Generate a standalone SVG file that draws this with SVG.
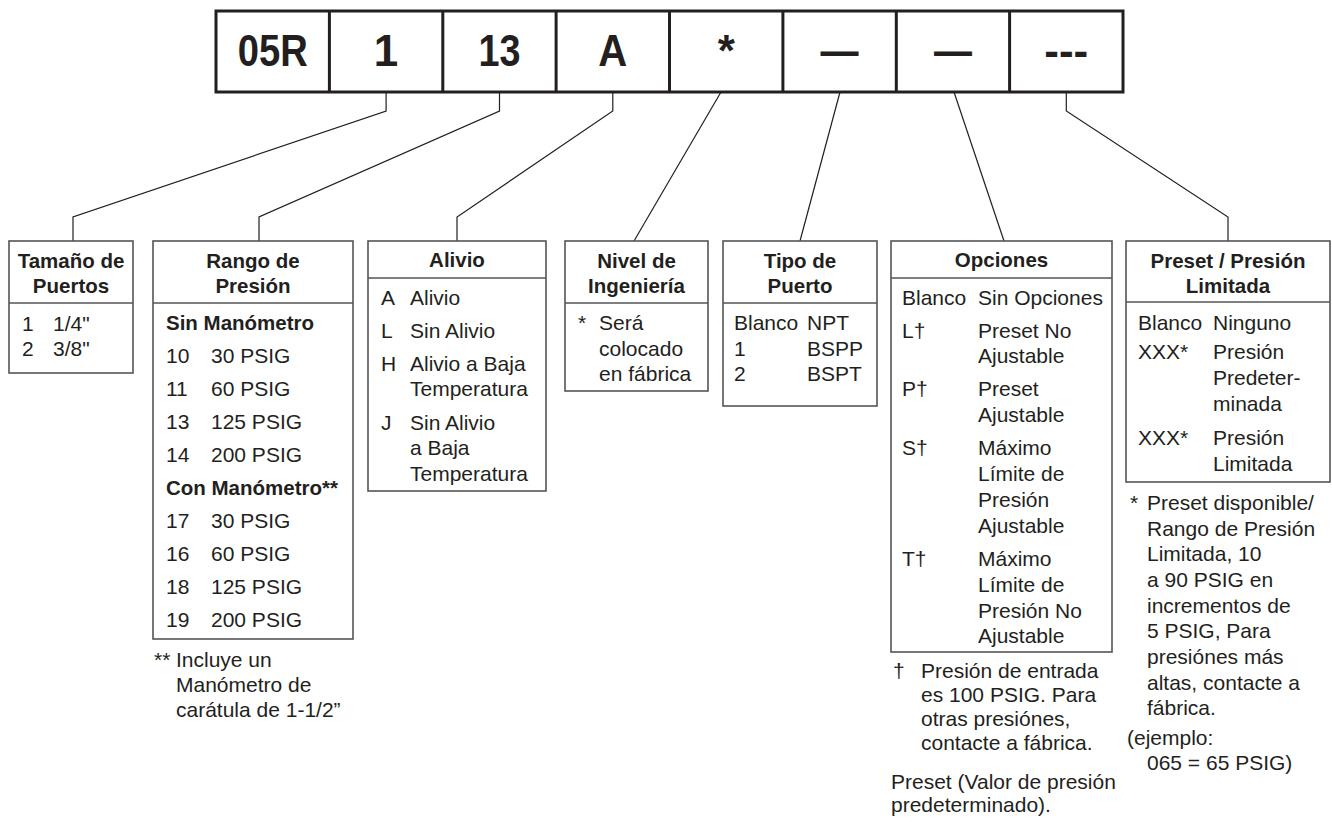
<svg xmlns="http://www.w3.org/2000/svg" width="1332" height="832" viewBox="0 0 1332 832">
<style>
.t{font-family:"Liberation Sans",Arial,Helvetica,sans-serif;fill:#231f20;font-size:21px}
.b{font-weight:bold;font-size:20.5px}
.c{text-anchor:middle}
.box{fill:#fff;stroke:#555557;stroke-width:1.6}
.div{stroke:#555557;stroke-width:1.6}
.code{fill:#fff;stroke:#231f20;stroke-width:3}
.cdiv{stroke:#231f20;stroke-width:3}
.big{font-family:"Liberation Sans",Arial,Helvetica,sans-serif;font-weight:bold;font-size:44px;fill:#231f20;text-anchor:middle}
.con{fill:none;stroke:#231f20;stroke-width:1.2}
</style>
<rect width="1332" height="832" fill="#fff"/>

<g id="model-code">
<rect class="code" x="216" y="11" width="907" height="81"/>
<line class="cdiv" x1="329.4" y1="11" x2="329.4" y2="92"/>
<line class="cdiv" x1="442.8" y1="11" x2="442.8" y2="92"/>
<line class="cdiv" x1="556.1" y1="11" x2="556.1" y2="92"/>
<line class="cdiv" x1="669.5" y1="11" x2="669.5" y2="92"/>
<line class="cdiv" x1="782.9" y1="11" x2="782.9" y2="92"/>
<line class="cdiv" x1="896.3" y1="11" x2="896.3" y2="92"/>
<line class="cdiv" x1="1009.6" y1="11" x2="1009.6" y2="92"/>
<text class="big" x="272.7" y="66" textLength="70" lengthAdjust="spacingAndGlyphs">05R</text>
<text class="big" x="386.1" y="66">1</text>
<text class="big" x="499.5" y="66" textLength="42" lengthAdjust="spacingAndGlyphs">13</text>
<text class="big" x="612.8" y="66" textLength="29" lengthAdjust="spacingAndGlyphs">A</text>
<text class="big" x="726.2" y="66">*</text>
<text class="big" x="839.6" y="66" textLength="38" lengthAdjust="spacingAndGlyphs">—</text>
<text class="big" x="953" y="66" textLength="38" lengthAdjust="spacingAndGlyphs">—</text>
<text class="big" x="1066.3" y="66">---</text>
</g>

<g id="connectors" class="con">
<polyline points="386.1,92 386.1,111 73,217 73,241"/>
<polyline points="499.5,92 499.5,111 259,217 259,241"/>
<polyline points="612.8,92 612.8,111 457,217 457,241"/>
<line x1="721" y1="92" x2="634" y2="241"/>
<line x1="840" y1="92" x2="800" y2="241"/>
<line x1="954" y1="92" x2="1004" y2="241"/>
<polyline points="1066.3,92 1066.3,111 1228,217 1228,241"/>
</g>

<g id="tamano">
<rect class="box" x="9" y="241" width="124" height="132"/>
<line class="div" x1="9" y1="303" x2="133" y2="303"/>
<text class="t b c" x="71" y="268">Tamaño de</text>
<text class="t b c" x="71" y="293">Puertos</text>
<text class="t" x="22" y="330.5">1</text><text class="t" x="53" y="330.5">1/4"</text>
<text class="t" x="22" y="356">2</text><text class="t" x="53" y="356">3/8"</text>
</g>

<g id="rango">
<rect class="box" x="153" y="241" width="200" height="398"/>
<line class="div" x1="153" y1="303" x2="353" y2="303"/>
<text class="t b c" x="253" y="268">Rango de</text>
<text class="t b c" x="253" y="293">Presión</text>
<text class="t b" x="166" y="330">Sin Manómetro</text>
<text class="t" x="166" y="363">10</text><text class="t" x="211" y="363">30 PSIG</text>
<text class="t" x="166" y="396">11</text><text class="t" x="211" y="396">60 PSIG</text>
<text class="t" x="166" y="429">13</text><text class="t" x="211" y="429">125 PSIG</text>
<text class="t" x="166" y="462">14</text><text class="t" x="211" y="462">200 PSIG</text>
<text class="t b" x="166" y="495">Con Manómetro**</text>
<text class="t" x="166" y="528">17</text><text class="t" x="211" y="528">30 PSIG</text>
<text class="t" x="166" y="561">16</text><text class="t" x="211" y="561">60 PSIG</text>
<text class="t" x="166" y="594">18</text><text class="t" x="211" y="594">125 PSIG</text>
<text class="t" x="166" y="627">19</text><text class="t" x="211" y="627">200 PSIG</text>
<text class="t" x="154" y="667">**</text>
<text class="t" x="176" y="667">Incluye un</text>
<text class="t" x="176" y="692">Manómetro de</text>
<text class="t" x="176" y="717">carátula de 1-1/2”</text>
</g>

<g id="alivio">
<rect class="box" x="368" y="241" width="178" height="250"/>
<line class="div" x1="368" y1="278" x2="546" y2="278"/>
<text class="t b c" x="457" y="267">Alivio</text>
<text class="t" x="381" y="304.5">A</text><text class="t" x="410" y="304.5">Alivio</text>
<text class="t" x="381" y="337.5">L</text><text class="t" x="410" y="337.5">Sin Alivio</text>
<text class="t" x="381" y="370.5">H</text><text class="t" x="410" y="370.5">Alivio a Baja</text>
<text class="t" x="410" y="396">Temperatura</text>
<text class="t" x="381" y="429.5">J</text><text class="t" x="410" y="429.5">Sin Alivio</text>
<text class="t" x="410" y="455">a Baja</text>
<text class="t" x="410" y="481">Temperatura</text>
</g>

<g id="nivel">
<rect class="box" x="565" y="241" width="143" height="150"/>
<line class="div" x1="565" y1="303" x2="708" y2="303"/>
<text class="t b c" x="636.5" y="268">Nivel de</text>
<text class="t b c" x="636.5" y="293">Ingeniería</text>
<text class="t" x="578" y="330">*</text><text class="t" x="599" y="330">Será</text>
<text class="t" x="599" y="356">colocado</text>
<text class="t" x="599" y="381">en fábrica</text>
</g>

<g id="tipo">
<rect class="box" x="723" y="241" width="154" height="165"/>
<line class="div" x1="723" y1="303" x2="877" y2="303"/>
<text class="t b c" x="800" y="268">Tipo de</text>
<text class="t b c" x="800" y="293">Puerto</text>
<text class="t" x="734" y="330">Blanco</text><text class="t" x="807" y="330">NPT</text>
<text class="t" x="734" y="356">1</text><text class="t" x="807" y="356">BSPP</text>
<text class="t" x="734" y="381">2</text><text class="t" x="807" y="381">BSPT</text>
</g>

<g id="opciones">
<rect class="box" x="891" y="241" width="221" height="411"/>
<line class="div" x1="891" y1="278" x2="1112" y2="278"/>
<text class="t b c" x="1001.5" y="267">Opciones</text>
<text class="t" x="902" y="304.5">Blanco</text><text class="t" x="978" y="304.5">Sin Opciones</text>
<text class="t" x="902" y="337.5">L†</text><text class="t" x="978" y="337.5">Preset No</text>
<text class="t" x="978" y="363">Ajustable</text>
<text class="t" x="902" y="396">P†</text><text class="t" x="978" y="396">Preset</text>
<text class="t" x="978" y="422">Ajustable</text>
<text class="t" x="902" y="455">S†</text><text class="t" x="978" y="455">Máximo</text>
<text class="t" x="978" y="481">Límite de</text>
<text class="t" x="978" y="507">Presión</text>
<text class="t" x="978" y="533">Ajustable</text>
<text class="t" x="902" y="566">T†</text><text class="t" x="978" y="566">Máximo</text>
<text class="t" x="978" y="592">Límite de</text>
<text class="t" x="978" y="618">Presión No</text>
<text class="t" x="978" y="643">Ajustable</text>
<text class="t" x="893" y="678">†</text>
<text class="t" x="921" y="678">Presión de entrada</text>
<text class="t" x="921" y="702">es 100 PSIG. Para</text>
<text class="t" x="921" y="726">otras presiónes,</text>
<text class="t" x="921" y="750">contacte a fábrica.</text>
<text class="t" x="891" y="789">Preset (Valor de presión</text>
<text class="t" x="891" y="812">predeterminado).</text>
</g>

<g id="preset">
<rect class="box" x="1126" y="241" width="204" height="241"/>
<line class="div" x1="1126" y1="302" x2="1330" y2="302"/>
<text class="t b c" x="1228" y="268">Preset / Presión</text>
<text class="t b c" x="1228" y="293">Limitada</text>
<text class="t" x="1138" y="330">Blanco</text><text class="t" x="1213" y="330">Ninguno</text>
<text class="t" x="1138" y="359">XXX*</text><text class="t" x="1213" y="359">Presión</text>
<text class="t" x="1213" y="385">Predeter-</text>
<text class="t" x="1213" y="411">minada</text>
<text class="t" x="1138" y="445">XXX*</text><text class="t" x="1213" y="445">Presión</text>
<text class="t" x="1213" y="471">Limitada</text>
<text class="t" x="1130" y="510">*</text>
<text class="t" x="1147" y="510">Preset disponible/</text>
<text class="t" x="1147" y="536">Rango de Presión</text>
<text class="t" x="1147" y="561">Limitada, 10</text>
<text class="t" x="1147" y="587">a 90 PSIG en</text>
<text class="t" x="1147" y="613">incrementos de</text>
<text class="t" x="1147" y="638">5 PSIG, Para</text>
<text class="t" x="1147" y="664">presiónes más</text>
<text class="t" x="1147" y="690">altas, contacte a</text>
<text class="t" x="1147" y="715">fábrica.</text>
<text class="t" x="1127" y="745">(ejemplo:</text>
<text class="t" x="1147" y="770">065 = 65 PSIG)</text>
</g>
</svg>
